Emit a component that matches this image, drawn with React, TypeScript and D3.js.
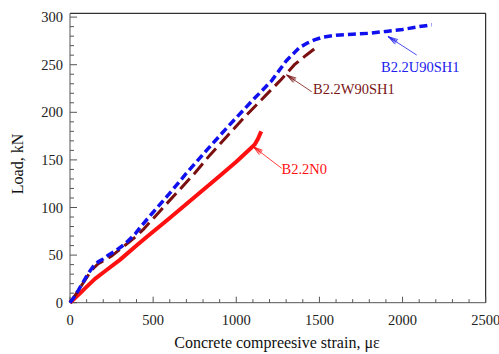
import React from 'react';
import * as d3 from 'd3';

// strain (microstrain) and load (kN)
const u90Strain = [0, 25, 50, 80, 110, 140, 170, 200, 230, 270, 310, 350, 391, 431, 500, 600, 700, 821, 950, 1100, 1212, 1300, 1380, 1430, 1470, 1520, 1600, 1700, 1800, 1900, 2000, 2100, 2140, 2175];
const u90Load = [0, 6, 13, 22, 31, 38, 43, 46, 50, 54, 59, 65, 72, 81, 95, 115, 136, 160, 185, 213, 233, 254, 268, 273, 276, 279, 281, 282, 283, 285, 287, 290, 291, 292];

const w90Strain = [0, 25, 50, 80, 110, 140, 170, 200, 250, 300, 350, 400, 441, 550, 650, 750, 841, 950, 1050, 1150, 1262, 1350, 1420, 1472];
const w90Load = [0, 6, 13, 21, 29, 36, 41, 44, 49, 56, 63, 70, 77, 98, 117, 136, 155, 176, 195, 213, 233, 250, 260, 267];

const n0Strain = [0, 30, 60, 90, 150, 210, 300, 400, 461, 600, 750, 900, 1000, 1092, 1110, 1130, 1150];
const n0Load = [0, 5, 10, 15, 25, 33, 45, 60, 69, 89, 111, 133, 148, 163, 166, 172, 180];

const xTicks = [0, 500, 1000, 1500, 2000, 2500];
const yTicks = [0, 50, 100, 150, 200, 250, 300];

const W = 499;
const H = 354;
const margin = { left: 70, right: 13.3, top: 13.3, bottom: 51.3 };
const font = '"Liberation Serif", "Times New Roman", serif';

const x = d3.scaleLinear().domain([0, 2500]).range([margin.left, W - margin.right]);
const y = d3.scaleLinear().domain([0, 304]).range([H - margin.bottom, margin.top]);

const line = d3.line<number[]>().x(d => x(d[0])).y(d => y(d[1]));
const zip = (a: number[], b: number[]) => a.map((v, i) => [v, b[i]]);

const Arrow = ({ x1, y1, x2, y2, color }) => {
  // open arrowhead at (x2, y2)
  const ang = Math.atan2(y1 - y2, x1 - x2);
  const len = 10;
  const spread = 0.28;
  const pts = [-spread, -spread / 2, 0, spread / 2, spread].map(s => [
    x2 + len * Math.cos(ang + s),
    y2 + len * Math.sin(ang + s),
  ]);
  return (
    <g stroke={color} strokeWidth={0.8} fill="none">
      <line x1={x1} y1={y1} x2={x2} y2={y2} />
      {pts.map((p, i) => (
        <line key={i} x1={x2} y1={y2} x2={p[0]} y2={p[1]} />
      ))}
    </g>
  );
};

export default function App() {
  const x0 = x.range()[0];
  const x1 = x.range()[1];
  const y0 = y.range()[0];
  const y1 = y.range()[1];
  const xMinor = d3.range(0, 2501, 100);
  const yMinor = d3.range(0, 301, 10);

  return (
    <svg width={W} height={H} style={{ position: 'absolute', left: 0, top: 0, background: '#fff' }}>
      {/* frame */}
      <line x1={x0} y1={y1} x2={x1} y2={y1} stroke="#000" strokeWidth={1} />
      <line x1={x1} y1={y1} x2={x1} y2={y0} stroke="#000" strokeWidth={1} />
      <line x1={x0} y1={y0} x2={x1} y2={y0} stroke="#555" strokeWidth={1} />
      <line x1={x0} y1={y0} x2={x0} y2={y1} stroke="#555" strokeWidth={1} />

      {/* ticks */}
      {xMinor.map(v => (
        <line key={'xm' + v} x1={x(v)} x2={x(v)} y1={y0} y2={y0 - (v % 500 === 0 ? 6 : 3.5)} stroke="#555" />
      ))}
      {yMinor.map(v => (
        <line key={'ym' + v} x1={x0} x2={x0 + (v % 50 === 0 ? 7 : 4)} y1={y(v)} y2={y(v)} stroke="#555" />
      ))}
      {xTicks.map(v => (
        <text key={'xt' + v} x={x(v)} y={y0 + 22} textAnchor="middle" fontFamily={font} fontSize={14.5} fill="#222">
          {v}
        </text>
      ))}
      {yTicks.map(v => (
        <text key={'yt' + v} x={x0 - 7} y={y(v) + 5} textAnchor="end" fontFamily={font} fontSize={14.5} fill="#222">
          {v}
        </text>
      ))}

      {/* axis titles */}
      <text x={277} y={348} textAnchor="middle" fontFamily={font} fontSize={16} fill="#111">
        Concrete compreesive strain, με
      </text>
      <text transform="translate(23,164) rotate(-90)" textAnchor="middle" fontFamily={font} fontSize={16} fill="#111">
        Load, kN
      </text>

      {/* series */}
      <path d={line(zip(n0Strain, n0Load)) ?? ''} fill="none" stroke="#ff1010" strokeWidth={4} strokeLinejoin="round" />
      <path d={line(zip(w90Strain, w90Load)) ?? ''} fill="none" stroke="#7a0f0f" strokeWidth={3} strokeDasharray="14 6" />
      <path d={line(zip(u90Strain, u90Load)) ?? ''} fill="none" stroke="#1010ee" strokeWidth={3.5} strokeDasharray="8 4" />

      {/* annotations */}
      <Arrow x1={416.7} y1={55} x2={388.3} y2={36.7} color="#2020ee" />
      <text x={381} y={72} fontFamily={font} fontSize={14.5} fill="#2020ee">B2.2U90SH1</text>
      <Arrow x1={311.7} y1={91.7} x2={286.7} y2={75} color="#7a1515" />
      <text x={313} y={93.5} fontFamily={font} fontSize={14.5} fill="#7a1515">B2.2W90SH1</text>
      <Arrow x1={281.7} y1={168.3} x2={253.3} y2={146.7} color="#ff1010" />
      <text x={281.5} y={173.5} fontFamily={font} fontSize={14.5} fill="#ff1010">B2.2N0</text>
    </svg>
  );
}
